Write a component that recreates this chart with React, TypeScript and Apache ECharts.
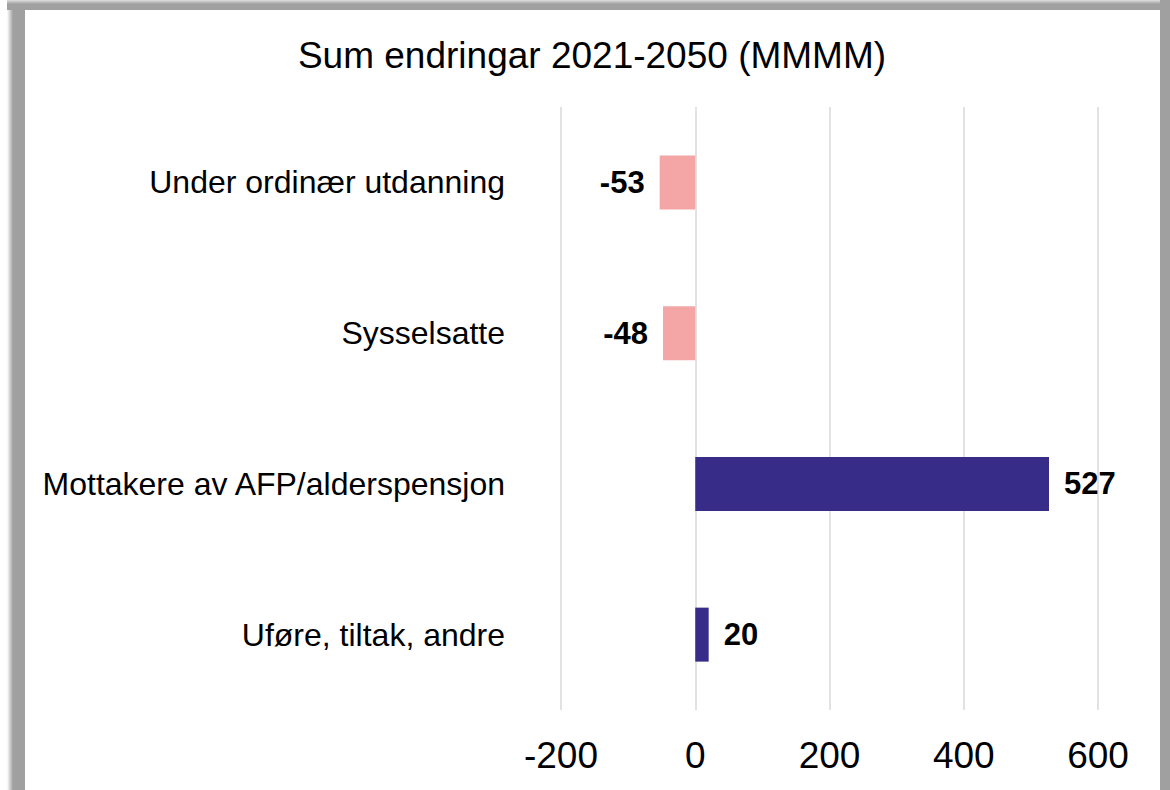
import React, { useEffect, useRef } from "react";
import * as echarts from "echarts";

const titleText = "Sum endringar 2021-2050 (MMMM)";
const categories = [
  "Under ordinær utdanning",
  "Sysselsatte",
  "Mottakere av AFP/alderspensjon",
  "Uføre, tiltak, andre",
];
const values = [-53, -48, 527, 20];
const axisMin = -200;
const axisMax = 600;
const axisInterval = 200;

const negColor = "#F4A6A6";
const posColor = "#372D88";
const font = "'Liberation Sans', Arial, sans-serif";

export default function App() {
  const ref = useRef<HTMLDivElement>(null);
  useEffect(() => {
    if (!ref.current) return;
    const chart = echarts.init(ref.current, null, { renderer: "svg" });
    chart.setOption({
      animation: false,
      title: {
        text: titleText,
        left: 587,
        top: 32,
        textAlign: "center",
        textStyle: { fontFamily: font, fontSize: 37, fontWeight: "normal", color: "#000" },
      },
      grid: { left: 561, width: 537, top: 107, height: 603, containLabel: false },
      xAxis: {
        type: "value",
        min: axisMin,
        max: axisMax,
        interval: axisInterval,
        axisLine: { show: false },
        axisTick: { show: false },
        splitLine: { show: true, lineStyle: { color: "#d9d9d9", width: 1.5 } },
        axisLabel: { fontFamily: font, fontSize: 37, color: "#000", margin: 27 },
      },
      yAxis: {
        type: "category",
        data: categories,
        inverse: true,
        axisLine: { show: false },
        axisTick: { show: false },
        axisLabel: { fontFamily: font, fontSize: 32, color: "#000", margin: 56 },
      },
      series: [
        {
          type: "bar",
          barWidth: 54,
          data: values.map((v) => ({
            value: v,
            itemStyle: { color: v < 0 ? negColor : posColor },
            label: {
              show: true,
              position: v < 0 ? "left" : "right",
              distance: 15,
              fontFamily: font,
              fontSize: 31,
              fontWeight: "bold",
              color: "#000",
            },
          })),
        },
      ],
    });
    return () => chart.dispose();
  }, []);

  return (
    <div
      style={{
        position: "fixed",
        left: 0,
        top: 0,
        width: 1170,
        height: 790,
        overflow: "hidden",
        background: "#fff",
      }}
    >
      <div
        style={{
          position: "absolute",
          left: 7,
          top: 0,
          width: 18,
          height: 790,
          background: "linear-gradient(to right, #ffffff 0px, #a0a0a0 6px, #a0a0a0 100%)",
        }}
      />
      <div
        style={{
          position: "absolute",
          left: 7,
          top: 0,
          width: 1163,
          height: 10,
          background: "linear-gradient(to bottom, #e0e0e0 0px, #a0a0a0 4px, #a0a0a0 100%)",
        }}
      />
      <div
        style={{
          position: "absolute",
          left: 1160,
          top: 0,
          width: 10,
          height: 790,
          background: "#a0a0a0",
        }}
      />
      <div ref={ref} style={{ position: "absolute", left: 0, top: 0, width: 1170, height: 790 }} />
    </div>
  );
}
